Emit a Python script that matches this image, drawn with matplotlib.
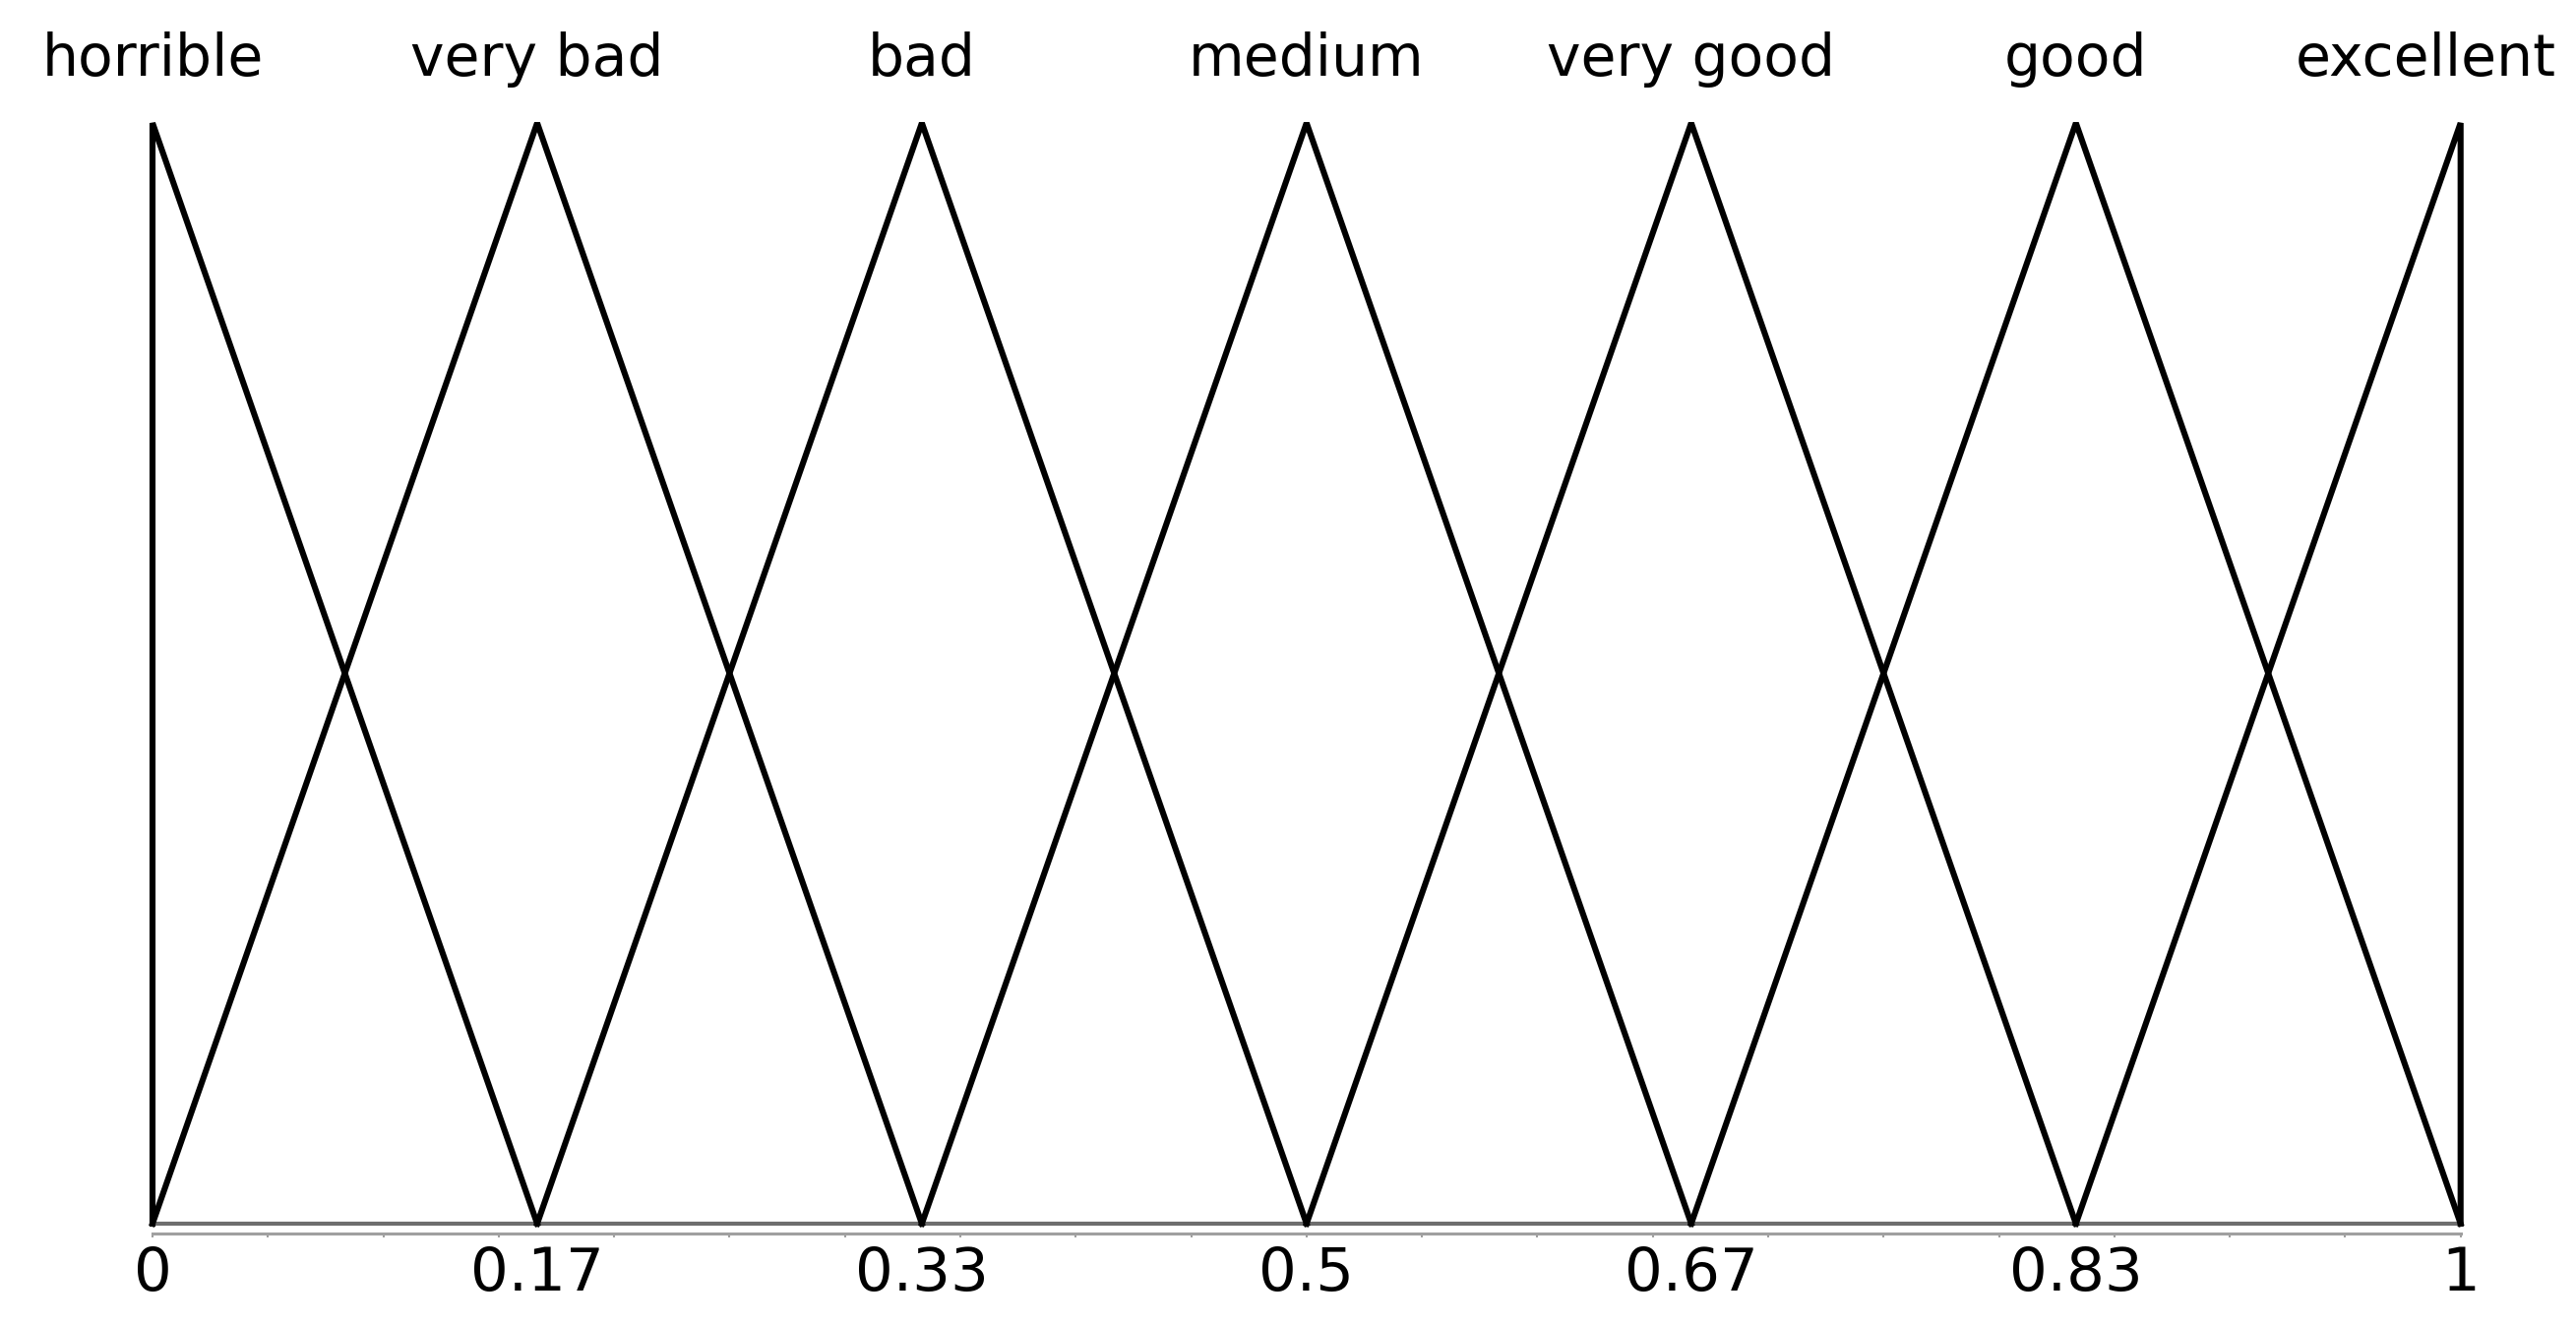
import numpy as np
import matplotlib
matplotlib.use('Agg')
from matplotlib import pyplot as plt
from matplotlib.ticker import MultipleLocator

# linguistic terms and their triangle corner points (x, membership)
terms = ['horrible', 'very bad', 'bad', 'medium', 'very good', 'good', 'excellent']
peaks = [0, 1/6, 2/6, 3/6, 4/6, 5/6, 1]
tick_pos = [0, 1/6, 2/6, 3/6, 4/6, 5/6, 1]
tick_labels = ['0', '0.17', '0.33', '0.5', '0.67', '0.83', '1']


def triangle(c, width=1/6):
    xs = [max(c - width, 0), c, min(c + width, 1)]
    ys = [0 if c - width >= 0 else 1, 1, 0 if c + width <= 1 else 1]
    # edge terms get a vertical side
    if c - width < 0:
        xs = [0] + xs
        ys = [0] + ys
    if c + width > 1:
        xs = xs + [1]
        ys = ys + [0]
    return xs, ys


fig = plt.figure(figsize=(26.18, 13.46), dpi=100)
ax = fig.add_axes([0.0592, 0.0758, 0.8960, 0.8313])

ax.axhline(0, color='#6e6e6e', lw=3, zorder=1, clip_on=False)
for c in peaks:
    xs, ys = triangle(c)
    ax.plot(xs, ys, color='black', lw=4.4, solid_joinstyle='bevel', clip_on=False, zorder=3)

label_x = list(peaks)
label_x[-1] = 0.985
for name, x in zip(terms, label_x):
    ax.text(x, 1.058, name, ha='center', va='center', fontsize=42, family='DejaVu Sans')

ax.set_xlim(0, 1)
ax.set_ylim(0, 1)
for s in ['left', 'right', 'top']:
    ax.spines[s].set_visible(False)
ax.spines['bottom'].set_position(('outward', 7))
ax.spines['bottom'].set_color('#a0a0a0')
ax.spines['bottom'].set_linewidth(2.2)
ax.set_yticks([])
ax.set_xticks(tick_pos)
ax.set_xticklabels(tick_labels)
ax.xaxis.set_minor_locator(MultipleLocator(0.05))
ax.xaxis.remove_overlapping_locs = False
ax.tick_params(axis='x', which='major', length=0, pad=9, labelsize=44)
ax.tick_params(axis='x', which='minor', direction='out', length=3, width=1.5, color='#a0a0a0')

fig.savefig('out.png', dpi=100)
